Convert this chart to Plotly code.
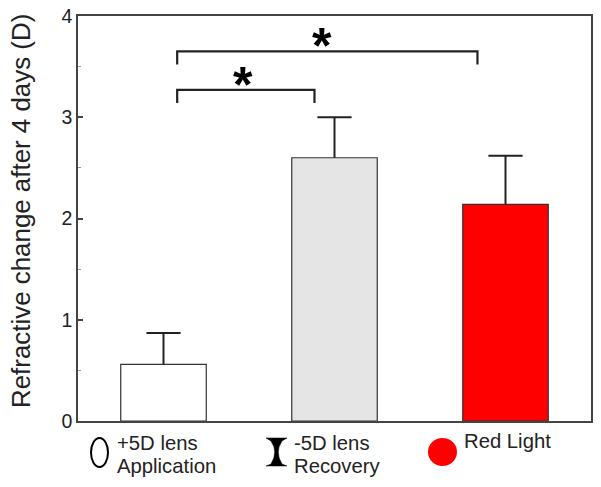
import plotly.graph_objects as go

categories = [0, 1, 2]
bar_values = [0.56, 2.6, 2.14]
err_values = [0.31, 0.4, 0.48]
bar_colors = ['white', '#e5e5e5', '#ff0000']
y_ticks = [0, 1, 2, 3, 4]
minor_ticks = [0.5, 1.5, 2.5, 3.5]

# brackets: x start, x end, level, drop
bracket_x = [[0.08, 0.883], [0.08, 1.836]]
bracket_y = [3.27, 3.65]
bracket_drop = [0.13, 0.13]
star_x = [0.465, 0.925]
star_y = [3.27, 3.65]

FONT = 'Liberation Sans'
W, H = 601, 487
L, R, T, B = 78, 10, 16, 66
CAP = 0.1

fig = go.Figure(go.Bar(
    x=categories,
    y=bar_values,
    width=0.5,
    marker=dict(color=bar_colors, line=dict(color='#333333', width=1.2)),
))

# upper whiskers only, error_y would put a second cap on the bar top
for c, v, e in zip(categories, bar_values, err_values):
    fig.add_trace(go.Scatter(
        x=[c, c, None, c - CAP, c + CAP],
        y=[v, v + e, None, v + e, v + e],
        mode='lines',
        line=dict(color='#222222', width=2),
    ))

for bx, by, drop in zip(bracket_x, bracket_y, bracket_drop):
    fig.add_trace(go.Scatter(
        x=[bx[0], bx[0], bx[1], bx[1]],
        y=[by - drop, by, by, by - drop],
        mode='lines',
        line=dict(color='#222222', width=2.2),
    ))

for sx, sy in zip(star_x, star_y):
    fig.add_annotation(x=sx, y=sy, xref='x', yref='y', text='<b>*</b>', showarrow=False,
                       yanchor='bottom', yshift=-25, font=dict(family=FONT, size=50, color='black'))


def px(x):
    return (x - L) / (W - L - R)


def py(y):
    return (H - B - y) / (H - T - B)


# legend glyphs and labels under the axis
fig.add_shape(type='circle', xref='paper', yref='paper', x0=px(91), x1=px(108), y0=py(467), y1=py(438),
              line=dict(color='black', width=2), fillcolor='white')
fig.add_shape(type='circle', xref='paper', yref='paper', x0=px(428), x1=px(457), y0=py(466), y1=py(438),
              line=dict(width=0), fillcolor='#ff0000')
hourglass = 'M {} {} L {} {} L {} {} Q {} {} {} {} L {} {} L {} {} L {} {} Q {} {} {} {} Z'.format(
    px(266), py(438), px(287), py(438), px(282), py(441), px(274.5), py(452), px(282), py(464),
    px(287), py(466), px(266), py(466), px(271), py(464), px(278.5), py(452), px(271), py(441))
fig.add_shape(type='path', xref='paper', yref='paper', path=hourglass,
              line=dict(color='black', width=0.5), fillcolor='black')

labels = [
    (115, 443, '+5D lens'), (115, 466, 'Application'),
    (292, 443, '-5D lens'), (292, 466, 'Recovery'),
    (462, 441, 'Red Light'),
]
for lx, ly, txt in labels:
    fig.add_annotation(x=px(lx), y=py(ly), xref='paper', yref='paper', text=txt, showarrow=False,
                       xanchor='left', yanchor='middle',
                       font=dict(family=FONT, size=20.3, color='#222222'))

# axis title sits above the plot centre in the original, so it is placed by hand
fig.add_annotation(x=px(20.5), y=py(211.5), xref='paper', yref='paper', textangle=-90, showarrow=False,
                   xanchor='center', yanchor='middle',
                   text='Refractive change after 4 days (D)',
                   font=dict(family=FONT, size=25.9, color='#222222'))

fig.update_layout(
    width=W,
    height=H,
    margin=dict(l=L, r=R, t=T, b=B, autoexpand=False),
    showlegend=False,
    paper_bgcolor='white',
    plot_bgcolor='white',
    xaxis=dict(
        range=[-0.5, 2.5],
        showticklabels=False,
        showgrid=False,
        zeroline=False,
        ticks='',
        showline=True,
        mirror=True,
        linecolor='#444444',
        linewidth=1.5,
    ),
    yaxis=dict(
        range=[0, 4],
        tickvals=y_ticks,
        ticks='inside',
        ticklen=5,
        tickwidth=1.5,
        tickcolor='#444444',
        tickfont=dict(family=FONT, size=19.5, color='#222222'),
        showgrid=False,
        zeroline=False,
        showline=True,
        mirror=True,
        linecolor='#444444',
        linewidth=1.5,
        minor=dict(tickvals=minor_ticks, ticks='inside', ticklen=3, tickwidth=1, tickcolor='#999999', showgrid=False),
    ),
)

fig.write_html("out.html", config=dict(displayModeBar=False), post_script="document.body.style.margin='0';")
